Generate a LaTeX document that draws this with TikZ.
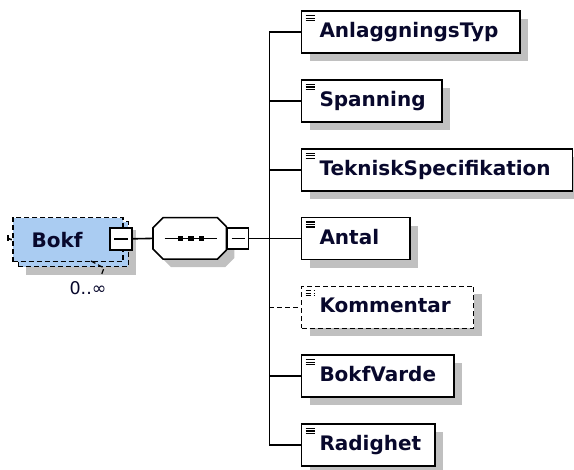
\documentclass[tikz,border=0pt]{standalone}
\usepackage{fontspec}
\setmainfont{DejaVu Sans}
\usetikzlibrary{shadows}
\definecolor{boxblue}{RGB}{170,204,242}
\definecolor{shadowgrey}{RGB}{192,192,192}
\definecolor{nametext}{RGB}{8,8,44}
\tikzset{
	conn/.style={line width=1.6pt},
	optline/.style={dash pattern=on 5pt off 3pt},
	boxshadow/.style={general shadow={fill=shadowgrey, shadow xshift=8pt, shadow yshift=-8pt}},
	elemicon/.style={path picture={
		\foreach \k in {4.5,7,9.5}
			\draw[line width=1.2pt] ([xshift=4pt,yshift=-\k pt]path picture bounding box.north west) -- ++(9pt,0);}},
	elem/.style={draw, line width=1.6pt, fill=white, anchor=west, minimum height=42pt,
		inner xsep=18pt, inner ysep=0pt, text width=#1, align=left, text height=15pt, text depth=4pt,
		font=\bfseries\fontsize{20}{24}\selectfont, text=nametext, boxshadow, elemicon},
	multbox/.style={draw, line width=1.6pt, optline, fill=boxblue, minimum width=110pt, inner sep=0pt},
	minusbox/.style={draw, line width=1.5pt, fill=white, minimum size=22pt, inner sep=0pt,
		path picture={\draw[line width=1.5pt] ([xshift=4pt]path picture bounding box.west) -- ([xshift=-4pt]path picture bounding box.east);}},
	seqbox/.style={minimum width=73pt, minimum height=41pt, inner sep=0pt}
}
\begin{document}
\begin{tikzpicture}[x=1pt, y=-1pt]
	\useasboundingbox (0,0) rectangle (574,470);
	
	%Bokf, mehrfach
	\node[multbox, minimum height=45pt, boxshadow] (bokfback) at (73.3,244.2) {};
	\node[multbox, minimum height=44pt, text width=72.3pt, inner xsep=19pt, align=left,
		font=\bfseries\fontsize{20}{24}\selectfont, text=nametext] (bokf) at (67.85,239.7) {Bokf};
	\node[minusbox] (bokfminus) at (121.2,238.8) {};
	\coordinate (bokfin) at (8,238.5);
	\draw[conn, optline] (bokfin) -- (bokf.west);
	\draw[conn] ([yshift=3pt]bokfin) -- ([yshift=-3pt]bokfin);
	\node[font=\fontsize{17.5}{20}\selectfont, text=nametext] (mult) at (88,288.5) {0..∞};
	\draw[line width=1.2pt, optline] (91,261) -- (104,268) -- (101,276);
	
	%Sequenz
	\node[seqbox] (seq) at (189.7,238.4) {};
	\draw[conn, fill=white, boxshadow] ([xshift=10pt]seq.north west) -- ([xshift=-9pt]seq.north east)
		-- ([yshift=-9pt]seq.north east) -- ([yshift=9pt]seq.south east)
		-- ([xshift=-9pt]seq.south east) -- ([xshift=10pt]seq.south west)
		-- ([yshift=10pt]seq.south west) -- ([yshift=-10pt]seq.north west) -- cycle;
	\draw[conn] ([xshift=-25pt]seq.center) -- ([xshift=27pt]seq.center);
	\foreach \dx in {-9,1.3,12}
		\fill ([xshift=\dx pt]seq.center) +(-2.7pt,-2.7pt) rectangle +(2.7pt,2.7pt);
	\node[minusbox, minimum size=21pt] (seqminus) at (238,238.5) {};
	\draw[conn] (bokfminus.east) -- (seq.west);
	
	%Kindelemente
	\node[elem=182.6pt] (anl) at (300.7,32.2) {AnlaggningsTyp};
	\node[elem=104.3pt] (span) at (300.7,101) {Spanning};
	\node[elem=235pt] (tek) at (300.7,169.8) {TekniskSpecifikation};
	\node[elem=72.6pt] (antal) at (300.7,238.6) {Antal};
	\node[elem=136pt, optline] (komm) at (300.7,307.4) {Kommentar};
	\node[elem=116.6pt] (bokfv) at (300.7,376.2) {BokfVarde};
	\node[elem=97.6pt] (radig) at (300.7,445) {Radighet};
	
	%Stamm
	\coordinate (trunktop) at (269.3,32.2);
	\coordinate (trunkbot) at (269.3,445);
	\draw[conn] (trunktop) -- (trunkbot);
	\draw[conn] (seqminus.east) -- (seqminus.east -| trunktop);
	\draw[conn] (anl.west -| trunktop) -- (anl.west);
	\draw[conn] (span.west -| trunktop) -- (span.west);
	\draw[conn] (tek.west -| trunktop) -- (tek.west);
	\draw[conn] (antal.west -| trunktop) -- (antal.west);
	\draw[conn, optline] (komm.west -| trunktop) -- (komm.west);
	\draw[conn] (bokfv.west -| trunktop) -- (bokfv.west);
	\draw[conn] (radig.west -| trunktop) -- (radig.west);
	
\end{tikzpicture}
\end{document}
